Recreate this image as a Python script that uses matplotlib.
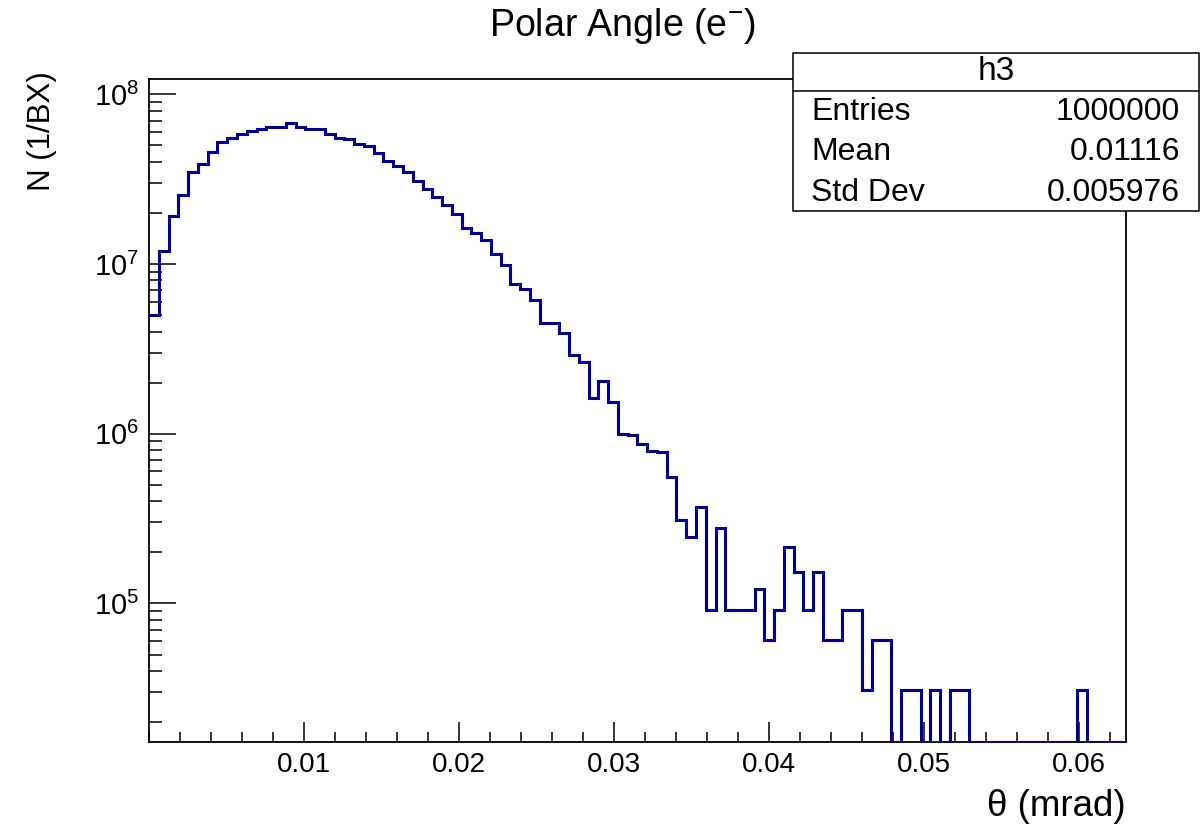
import numpy as np
import matplotlib
matplotlib.use("Agg")
import matplotlib.pyplot as plt
from matplotlib.ticker import FixedLocator, MultipleLocator, LogLocator, NullFormatter, StrMethodFormatter
from matplotlib.patches import Rectangle

plt.rcParams['font.family'] = ['Liberation Sans', 'DejaVu Sans']
plt.rcParams['mathtext.fontset'] = 'custom'
plt.rcParams['mathtext.rm'] = 'Liberation Sans'

# histogram h3: 100 bins over [0, 0.063]
x_lo, x_hi, n_bins = 0.0, 0.063, 100
bin_counts = [
    5.0e6, 1.20e7, 1.93e7, 2.55e7, 3.47e7, 3.89e7, 4.59e7, 5.21e7, 5.55e7, 5.84e7,
    6.10e7, 6.25e7, 6.39e7, 6.42e7, 6.75e7, 6.39e7, 6.25e7, 6.20e7, 5.84e7, 5.55e7,
    5.43e7, 5.10e7, 4.96e7, 4.49e7, 4.05e7, 3.80e7, 3.47e7, 3.08e7, 2.77e7, 2.47e7,
    2.22e7, 1.97e7, 1.62e7, 1.53e7, 1.39e7, 1.14e7, 9.86e6, 7.59e6, 7.12e6, 6.14e6,
    4.47e6, 4.47e6, 3.91e6, 2.91e6, 2.66e6, 1.62e6, 2.05e6, 1.53e6, 9.96e5, 9.79e5,
    8.73e5, 7.88e5, 7.75e5, 5.54e5, 3.10e5, 2.47e5, 3.72e5, 9.14e4, 2.79e5, 9.14e4,
    9.14e4, 9.14e4, 1.22e5, 6.09e4, 9.14e4, 2.16e5, 1.54e5, 9.14e4, 1.54e5, 6.09e4,
    6.09e4, 9.14e4, 9.14e4, 3.09e4, 6.09e4, 6.09e4, 0, 3.09e4, 3.09e4, 0,
    3.09e4, 0, 3.09e4, 3.09e4, 0, 0, 0, 0, 0, 0,
    0, 0, 0, 0, 0, 3.09e4, 0, 0, 0, 0,
]
x_ticks = [0.01, 0.02, 0.03, 0.04, 0.05, 0.06]
y_lo, y_hi = 1.52e4, 1.23e8

stat_names = ["Entries", "Mean", "Std Dev"]
stat_values = ["1000000", "0.01116", "0.005976"]

W, H = 1201, 830
fig = plt.figure(figsize=(W / 100, H / 100), dpi=100)

def fx(px):
    return px / W

def fy(py):
    return 1 - py / H

ax = fig.add_axes([fx(149.1), fy(742.3), fx(1125.7) - fx(149.1), fy(79) - fy(742.3)])

edges = np.linspace(x_lo, x_hi, n_bins + 1)
counts = np.array(bin_counts, dtype=float)
# empty bins sit on the bottom of the frame, as in ROOT log plots
shown = np.where(counts > 0, counts, y_lo)
ax.stairs(shown, edges, baseline=None, color='#000099', lw=2.2, zorder=3)

ax.set_yscale('log')
ax.set_xlim(x_lo, x_hi)
ax.set_ylim(y_lo, y_hi)

ax.xaxis.set_major_locator(FixedLocator(x_ticks))
ax.xaxis.set_major_formatter(StrMethodFormatter('{x:.2f}'))
ax.xaxis.set_minor_locator(MultipleLocator(0.002))
ax.yaxis.set_major_locator(LogLocator(base=10, numticks=20))
ax.yaxis.set_minor_locator(LogLocator(base=10, subs=np.arange(2, 10), numticks=20))
ax.yaxis.set_minor_formatter(NullFormatter())

ax.tick_params(which='both', direction='in', top=False, right=False, width=1.1, colors='black')
ax.tick_params(axis='x', which='major', length=14.5, pad=7, labelsize=20)
ax.tick_params(axis='x', which='minor', length=7.2)
ax.tick_params(axis='y', which='major', length=19.5, pad=7, labelsize=21)
ax.tick_params(axis='y', which='minor', length=9.5)
for s in ax.spines.values():
    s.set_linewidth(1.3)

fig.text(fx(622), fy(26), r'Polar Angle (e$^{\mathdefault{-}}$)', ha='center', va='center', fontsize=27)
fig.text(fx(42), fy(71), 'N (1/BX)', rotation=90, ha='center', va='top', fontsize=22.5)
fig.text(fx(1126), fy(806), 'θ (mrad)', ha='right', va='center', fontsize=26.5)

# stats box
bx0, bx1, by0, by1, bsep = 792.7, 1199, 53.3, 210.7, 91
fig.patches.append(Rectangle((fx(bx0), fy(by1)), fx(bx1) - fx(bx0), fy(by0) - fy(by1),
                             transform=fig.transFigure, facecolor='white', edgecolor='black',
                             lw=1.1, zorder=5))
fig.lines.append(plt.Line2D([fx(bx0), fx(bx1)], [fy(bsep), fy(bsep)], transform=fig.transFigure,
                            color='black', lw=1.1, zorder=6))
fig.text(fx(996), fy(72), 'h3', ha='center', va='center', fontsize=24, zorder=7)
for k, (name, val) in enumerate(zip(stat_names, stat_values)):
    yy = fy(111.5 + 40.8 * k)
    fig.text(fx(811), yy, name, ha='left', va='center', fontsize=23, zorder=7)
    fig.text(fx(1180), yy, val, ha='right', va='center', fontsize=23, zorder=7)

fig.savefig('out.png', dpi=100)
